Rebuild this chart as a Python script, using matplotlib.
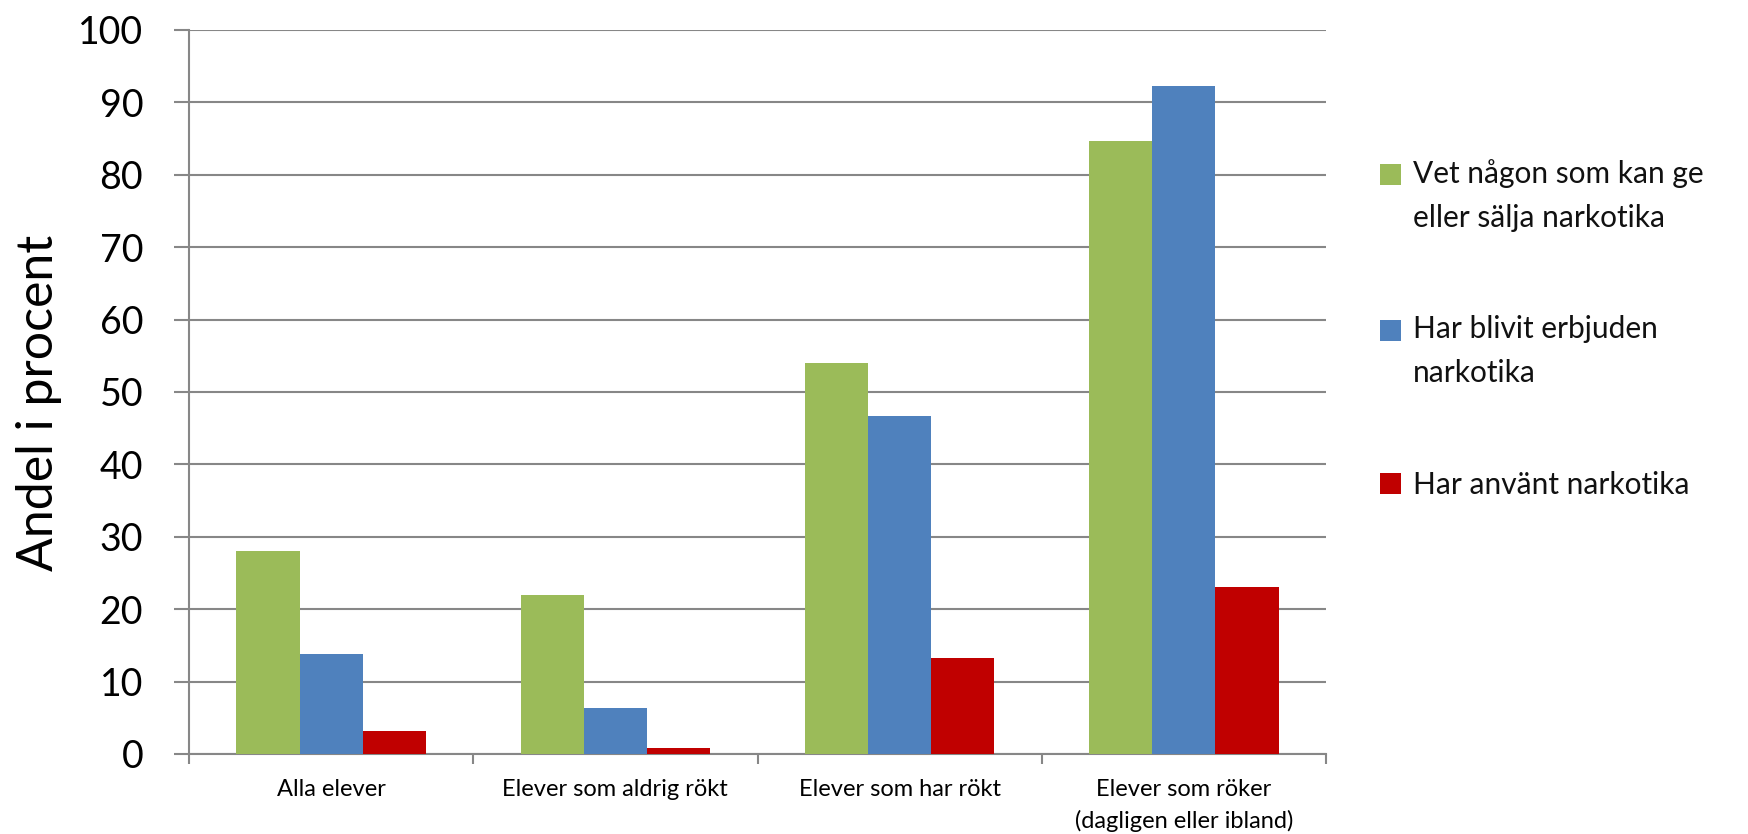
import matplotlib.pyplot as plt
import numpy as np

# Andel elever som vet om / erbjudits / använt narkotika, efter rökvanor

categories = ["Alla elever", "Elever som aldrig rökt", "Elever som har rökt",
              "Elever som röker\n(dagligen eller ibland)"]
series_labels = ["Vet någon som kan ge\neller sälja narkotika",
                 "Har blivit erbjuden\nnarkotika",
                 "Har använt narkotika"]
vet_nagon = [28.0, 22.0, 54.0, 84.6]
erbjuden = [13.8, 6.4, 46.7, 92.3]
anvant = [3.2, 0.8, 13.2, 23.1]
yticks = list(range(0, 101, 10))

colors = ["#9BBB59", "#4F81BD", "#C00000"]
grid_color = "#878787"


def main():
    plt.rcParams["font.family"] = ["Lato", "DejaVu Sans"]
    plt.rcParams["text.color"] = "#111111"

    fig = plt.figure(figsize=(17.48, 8.34), dpi=100)
    ax = fig.add_axes([189 / 1748, 80 / 834, 1137 / 1748, 724 / 834])

    x = np.arange(len(categories))
    w = 1 / 4.5
    for i, (vals, lab) in enumerate(zip([vet_nagon, erbjuden, anvant], series_labels)):
        ax.bar(x + (i - 1) * w, vals, width=w, color=colors[i], label=lab,
               zorder=3, linewidth=0)

    ax.set_xlim(-0.5, len(categories) - 0.5)
    ax.set_ylim(0, 100)
    ax.set_yticks(yticks)
    ax.set_yticklabels([str(v) for v in yticks], fontsize=27)
    ax.yaxis.grid(True, color=grid_color, linewidth=1.5, zorder=0)
    ax.tick_params(axis="y", length=11, width=1.5, color=grid_color, pad=22)

    ax.set_xticks(x)
    ax.set_xticklabels(categories, fontsize=17, linespacing=1.55)
    ax.set_xticks(np.arange(-0.5, len(categories), 1.0), minor=True)
    ax.tick_params(axis="x", which="major", length=0, pad=18)
    ax.tick_params(axis="x", which="minor", length=7.5, width=1.5, color=grid_color)

    for s in ["top", "right"]:
        ax.spines[s].set_visible(False)
    for s in ["left", "bottom"]:
        ax.spines[s].set_color(grid_color)
        ax.spines[s].set_linewidth(1.5)

    ax.set_ylabel("Andel i procent", fontsize=36)
    ax.yaxis.label.set_va("center")
    ax.yaxis.set_label_coords(-0.132, 0.485)

    leg = fig.legend(loc="upper left", bbox_to_anchor=(1380 / 1748, 1 - 159 / 834),
                     frameon=False, fontsize=21.5, handlelength=0.7, handleheight=0.7,
                     handletextpad=0.4, labelspacing=2.8, borderpad=0, borderaxespad=0)
    for t in leg.get_texts():
        t.set_linespacing(1.69)
    # Excel puts the colour key next to the first line of a wrapped label
    shift_pt = 15.6
    for p, lab in zip(leg.get_patches(), series_labels):
        nlines = lab.count("\n") + 1
        p.set_y(p.get_y() + (nlines - 1) * shift_pt)

    fig.savefig("out.png", dpi=100)


if __name__ == "__main__":
    main()
